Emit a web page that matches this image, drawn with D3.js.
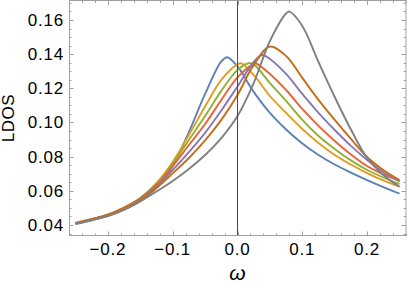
<!DOCTYPE html>
<html>
<head>
<meta charset="utf-8">
<script src="https://cdn.jsdelivr.net/npm/d3@7"></script>
<style>
  html, body { margin: 0; padding: 0; background: #fff; }
  svg { display: block; }
  text { font-family: "Liberation Sans", Arial, Helvetica, sans-serif; }
</style>
</head>
<body>
<svg id="chart" width="407" height="286"></svg>
<script>
// ---- data ----
const omega = [-0.25, -0.225, -0.2, -0.175, -0.15, -0.125, -0.1, -0.075, -0.05, -0.025, 0,
               0.025, 0.05, 0.075, 0.1, 0.125, 0.15, 0.175, 0.2, 0.225, 0.25];

const blue    = [0.0406, 0.0428, 0.0454, 0.0491, 0.0541, 0.0617, 0.0745, 0.0944, 0.1167, 0.1357, 0.1328,
                 0.1179, 0.1056, 0.0959, 0.0877, 0.0810, 0.0754, 0.0707, 0.0663, 0.0622, 0.0584];
const orange  = [0.0413, 0.0435, 0.0461, 0.0502, 0.0558, 0.0646, 0.0769, 0.0927, 0.1094, 0.1249, 0.1340,
                 0.1278, 0.1155, 0.1056, 0.0962, 0.0880, 0.0810, 0.0754, 0.0704, 0.0661, 0.0624];
const green   = [0.0411, 0.0434, 0.0461, 0.0502, 0.0558, 0.0640, 0.0757, 0.0898, 0.1038, 0.1185, 0.1308,
                 0.1340, 0.1231, 0.1126, 0.1015, 0.0921, 0.0845, 0.0778, 0.0722, 0.0678, 0.0640];
const red     = [0.0410, 0.0433, 0.0461, 0.0501, 0.0555, 0.0634, 0.0745, 0.0868, 0.0991, 0.1132, 0.1264,
                 0.1343, 0.1284, 0.1190, 0.1079, 0.0980, 0.0892, 0.0813, 0.0745, 0.0696, 0.0658];
const purple  = [0.0409, 0.0432, 0.0459, 0.0498, 0.0552, 0.0625, 0.0722, 0.0827, 0.0939, 0.1070, 0.1211,
                 0.1354, 0.1372, 0.1284, 0.1167, 0.1056, 0.0956, 0.0863, 0.0781, 0.0710, 0.0655];
const dkorange= [0.0410, 0.0433, 0.0459, 0.0497, 0.0549, 0.0617, 0.0702, 0.0792, 0.0895, 0.1015, 0.1161,
                 0.1337, 0.1444, 0.1389, 0.1261, 0.1132, 0.1015, 0.0904, 0.0798, 0.0722, 0.0663];
const gray    = [0.0408, 0.0428, 0.0452, 0.0488, 0.0538, 0.0596, 0.0658, 0.0728, 0.0810, 0.0909, 0.1038,
                 0.1231, 0.1477, 0.1638, 0.1565, 0.1354, 0.1149, 0.0959, 0.0792, 0.0693, 0.0624];

// peak position / height of each curve
const peakOmega = [-0.016, 0.006, 0.017, 0.028, 0.038, 0.050, 0.080];
const peakValue = [0.1382, 0.1346, 0.1347, 0.1347, 0.1395, 0.1444, 0.1649];

const seriesValues = [blue, orange, green, red, purple, dkorange, gray];
const seriesColors = ["#5E81B5", "#E19C24", "#8FB032", "#EB6235", "#8778B3", "#C56E1A", "#808080"];

const xTicks = [-0.2, -0.1, 0.0, 0.1, 0.2];
const yTicks = [0.04, 0.06, 0.08, 0.10, 0.12, 0.14, 0.16];
const xLabel = "ω";
const yLabel = "LDOS";

// ---- layout ----
const svg = d3.select("#chart");
const L = 69, R = 406, T = 1, B = 236;
const x = d3.scaleLinear().domain([-0.26, 0.26]).range([L, R]);
const y = d3.scaleLinear().domain([0.03356, 0.1711]).range([B, T]);

const frameColor = "#a0a0a0";

svg.append("defs").append("clipPath").attr("id", "clip")
  .append("rect").attr("x", L).attr("y", T).attr("width", R - L).attr("height", B - T);

// curves
const line = d3.line().x(d => x(d[0])).y(d => y(d[1])).curve(d3.curveCatmullRom.alpha(0.5));
const gCurves = svg.append("g").attr("clip-path", "url(#clip)");
seriesValues.forEach((vals, i) => {
  let pts = omega.map((w, j) => [w, vals[j]]);
  if (!pts.some(p => Math.abs(p[0] - peakOmega[i]) < 1e-9)) pts.push([peakOmega[i], peakValue[i]]);
  pts.sort((a, b) => a[0] - b[0]);
  gCurves.append("path").datum(pts)
    .attr("fill", "none").attr("stroke", seriesColors[i])
    .attr("stroke-width", 1.9).attr("stroke-linejoin", "round")
    .attr("d", line);
});

// vertical line at omega = 0
svg.append("line").attr("x1", x(0)).attr("x2", x(0)).attr("y1", T).attr("y2", B)
  .attr("stroke", "#4a4a4a").attr("stroke-width", 1);

// frame
svg.append("rect").attr("x", L + 0.5).attr("y", T - 0.5).attr("width", R - L - 0.5).attr("height", B - T)
  .attr("fill", "none").attr("stroke", frameColor).attr("stroke-width", 1);

// ticks
const gT = svg.append("g").attr("stroke", frameColor).attr("stroke-width", 1);
const xMinor = d3.range(-0.26, 0.2601, 0.02).map(v => Math.round(v * 100) / 100);
xMinor.forEach(v => {
  const isMajor = xTicks.some(t => Math.abs(t - v) < 1e-9);
  const len = isMajor ? 4.5 : 2.5;
  const px = Math.round(x(v)) + 0.5;
  gT.append("line").attr("x1", px).attr("x2", px).attr("y1", B).attr("y2", B - len);
  gT.append("line").attr("x1", px).attr("x2", px).attr("y1", T - 0.5).attr("y2", T - 0.5 + len);
});
const yMinor = d3.range(0.035, 0.1701, 0.005).map(v => Math.round(v * 1000) / 1000);
yMinor.forEach(v => {
  const isMajor = yTicks.some(t => Math.abs(t - v) < 1e-9);
  const len = isMajor ? 4.5 : 2.5;
  const py = Math.round(y(v)) + 0.5;
  gT.append("line").attr("x1", L).attr("x2", L + len).attr("y1", py).attr("y2", py);
  gT.append("line").attr("x1", R).attr("x2", R - len).attr("y1", py).attr("y2", py);
});

// tick labels
svg.append("g").selectAll("text").data(xTicks).join("text")
  .attr("x", d => x(d)).attr("y", 255)
  .attr("text-anchor", "middle").attr("font-size", 17).attr("letter-spacing", 0.8)
  .attr("fill", "#000")
  .text(d => (d < 0 ? "\u2212" : "") + Math.abs(d).toFixed(1));

svg.append("g").selectAll("text").data(yTicks).join("text")
  .attr("x", 64).attr("y", d => y(d) + 6)
  .attr("text-anchor", "end").attr("font-size", 17).attr("letter-spacing", 0.8)
  .attr("fill", "#000")
  .text(d => d.toFixed(2));

// axis labels
svg.append("text").attr("x", x(0)).attr("y", 280)
  .attr("text-anchor", "middle").attr("font-size", 21)
  .attr("font-style", "italic").attr("font-family", "'DejaVu Serif', 'Liberation Serif', serif")
  .text(xLabel);

svg.append("text").attr("transform", "translate(14,118) rotate(-90)")
  .attr("text-anchor", "middle").attr("font-size", 17).attr("letter-spacing", 0.5)
  .text(yLabel);
</script>
</body>
</html>
